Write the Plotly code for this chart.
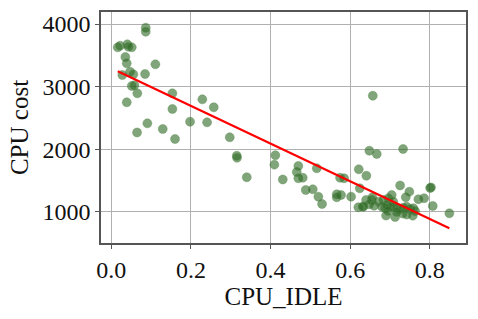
import plotly.graph_objects as go
import numpy as np

cpu_idle = [
    0.0864, 0.0864, 0.0161, 0.0219, 0.0402, 0.0427, 0.0513, 0.0352, 0.0387, 0.1106,
    0.0276, 0.0470, 0.0553, 0.0847, 0.0513, 0.0578, 0.0653, 0.0387, 0.1533, 0.2286,
    0.1533, 0.2573, 0.1977, 0.2405, 0.0905, 0.1291, 0.0646, 0.1600, 0.2975, 0.3151,
    0.3158, 0.3402, 0.4120, 0.4095, 0.4307, 0.4658, 0.4698, 0.4698, 0.4809, 0.5161,
    0.4884, 0.5060, 0.5201, 0.5294, 0.5663, 0.5771, 0.5663, 0.5746, 0.5847, 0.6023,
    0.6216, 0.6407, 0.6241, 0.6568, 0.6482, 0.6668, 0.7329, 0.7254, 0.7487, 0.7397,
    0.7714, 0.7857, 0.8008, 0.8075, 0.8492,
    0.6317, 0.6400, 0.6482, 0.6542, 0.6600, 0.6709, 0.6834, 0.6960, 0.7043, 0.7083,
    0.6794, 0.6877, 0.6920, 0.7003, 0.7083, 0.7168, 0.7251, 0.7334, 0.7420, 0.7505,
    0.7588, 0.7128, 0.7319, 0.7420, 0.7631, 0.6902, 0.7573, 0.6206, 0.6332, 0.6952,
    0.7168, 0.6558, 0.8030,
]
cpu_cost = [
    3941, 3877, 3628, 3654, 3676, 3638, 3628, 3473, 3373, 3357,
    3186, 3239, 3197, 3202, 3011, 3022, 2894, 2750, 2894, 2798,
    2644, 2671, 2441, 2431, 2415, 2324, 2269, 2165, 2192, 1898,
    1866, 1554, 1905, 1755, 1519, 1638, 1734, 1538, 1547, 1697,
    1351, 1362, 1244, 1128, 1282, 1271, 1235, 1547, 1538, 1244,
    1681, 1579, 1378, 2856, 1978, 1926, 2005, 1423, 1324, 1235,
    1203, 1219, 1383, 1096, 979,
    1085, 1191, 1123, 1191, 1100, 1165, 1191, 1218, 1271, 1165,
    1085, 1059, 1112, 1085, 1085, 1059, 1048, 1069, 1085, 1048,
    1059, 920, 975, 959, 1016, 943, 941, 1075, 1085, 1016,
    1000, 1234, 1392,
]
fit_intercept = 3293
fit_slope = -3006

x_ticks = [0.0, 0.2, 0.4, 0.6, 0.8]
x_tick_labels = ["0.0", "0.2", "0.4", "0.6", "0.8"]
y_ticks = [1000, 2000, 3000, 4000]
y_tick_labels = ["1000", "2000", "3000", "4000"]

line_x = np.array([min(cpu_idle), max(cpu_idle)])
line_y = fit_intercept + fit_slope * line_x

font_family = "Liberation Serif, DejaVu Serif, serif"

fig = go.Figure()
fig.add_trace(go.Scatter(
    x=cpu_idle, y=cpu_cost, mode="markers",
    marker=dict(size=9, color="rgba(45,105,35,0.6)",
                line=dict(width=0.8, color="rgba(90,140,80,0.5)")),
    showlegend=False, hoverinfo="skip",
))
fig.add_trace(go.Scatter(
    x=line_x, y=line_y, mode="lines",
    line=dict(color="#ff0000", width=2.2),
    showlegend=False, hoverinfo="skip",
))

axis_common = dict(
    showgrid=True, gridcolor="#b0b0b0", gridwidth=1,
    showline=True, linecolor="#555555", linewidth=1.5, mirror=True,
    ticks="outside", ticklen=4, tickcolor="#555555", tickwidth=1,
    zeroline=False, automargin=False,
    tickfont=dict(family=font_family, size=24, color="#111111"),
    title_font=dict(family=font_family, size=25, color="#111111"),
)

fig.update_layout(
    width=478, height=319,
    margin=dict(l=101, r=12, t=12, b=76),
    paper_bgcolor="white", plot_bgcolor="white",
    xaxis=dict(range=[-0.026, 0.891], tickvals=x_ticks, ticktext=x_tick_labels,
               title=dict(text="CPU_IDLE", standoff=6), **axis_common),
    yaxis=dict(range=[505, 4192], tickvals=y_ticks, ticktext=y_tick_labels,
               title=dict(text="CPU cost", standoff=7), **axis_common),
)

fig.write_html(
    "out.html",
    config={"displayModeBar": False},
    post_script="document.body.style.margin='0';document.body.style.overflow='hidden';",
)
